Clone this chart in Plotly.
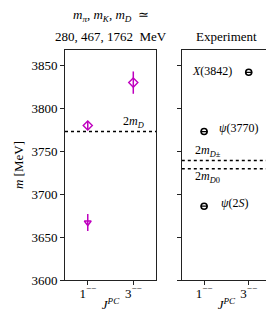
import plotly.graph_objects as go
from plotly.subplots import make_subplots

# ---- data ----
jpc_labels = ["1<sup>−−</sup>", "3<sup>−−</sup>"]
jpc_pos = [0, 1]

# lattice (left panel)
diamond_x = [0, 1]
diamond_m = [3780, 3830]
diamond_err = [5, 13]
tri_x = [0]
tri_m = [3667]
tri_err = [10]
two_mD_lat = 3773

# experiment (right panel)
exp_names = ["<i>X</i>(3842)", "<i>ψ</i>(3770)", "<i>ψ</i>(2<i>S</i>)"]
exp_x = [1, 0, 0]
exp_m = [3842, 3773, 3686]
two_mDpm = 3739.3
two_mD0 = 3729.7

y_range = [3600, 3868]
y_ticks = [3600, 3650, 3700, 3750, 3800, 3850]

MAG = "#bf00bf"
FONT = "Liberation Serif"

fig = make_subplots(rows=1, cols=2, shared_yaxes=False, horizontal_spacing=0.12)

fig.add_trace(go.Scatter(x=diamond_x, y=diamond_m, mode="markers",
                         marker=dict(symbol="diamond-open", size=7, color=MAG, line=dict(width=1.4)),
                         error_y=dict(type="data", array=diamond_err, color=MAG, thickness=1.5, width=0),
                         showlegend=False), row=1, col=1)
fig.add_trace(go.Scatter(x=tri_x, y=tri_m, mode="markers",
                         marker=dict(symbol="triangle-down-open", size=6, color=MAG, line=dict(width=1.4)),
                         error_y=dict(type="data", array=tri_err, color=MAG, thickness=1.5, width=0),
                         showlegend=False), row=1, col=1)
fig.add_trace(go.Scatter(x=[-0.5, 1.5], y=[two_mD_lat, two_mD_lat], mode="lines",
                         line=dict(color="black", dash="dot", width=1.6), showlegend=False), row=1, col=1)

fig.add_trace(go.Scatter(x=[-0.5, 1.5], y=[two_mDpm, two_mDpm], mode="lines",
                         line=dict(color="black", dash="dot", width=1.6), showlegend=False), row=1, col=2)
fig.add_trace(go.Scatter(x=[-0.5, 1.5], y=[two_mD0, two_mD0], mode="lines",
                         line=dict(color="black", dash="dot", width=1.6), showlegend=False), row=1, col=2)
fig.add_trace(go.Scatter(x=exp_x, y=exp_m, mode="markers",
                         marker=dict(symbol="circle-open", size=6, color="black", line=dict(width=1.6)),
                         showlegend=False), row=1, col=2)
fig.add_trace(go.Scatter(x=exp_x, y=exp_m, mode="markers",
                         marker=dict(symbol="line-ew", size=5, color="black", line=dict(width=1.2, color="black")),
                         showlegend=False), row=1, col=2)

axis_common = dict(range=[-0.5, 1.5], tickvals=jpc_pos, ticktext=jpc_labels, showgrid=False,
                   zeroline=False, showline=True, linecolor="#222", linewidth=1, mirror=True,
                   ticks="outside", ticklen=4, tickcolor="#222", ticklabelstandoff=-3,
                   tickfont=dict(family=FONT, size=13, color="black"),
                   title=dict(text="<i>J<sup>PC</sup></i>", font=dict(family=FONT, size=13, color="black"), standoff=0))
fig.update_xaxes(**axis_common, domain=[0, 0.442], row=1, col=1)
fig.update_xaxes(**axis_common, domain=[0.567, 1.0], row=1, col=2)

yax = dict(range=y_range, tickvals=y_ticks, showgrid=False, zeroline=False, showline=True,
           linecolor="#222", linewidth=1, mirror=True, ticks="outside", ticklen=4, tickcolor="#222",
           tickfont=dict(family=FONT, size=13, color="black"))
fig.update_yaxes(**yax, title=dict(text="<i>m</i> [MeV]", font=dict(family=FONT, size=13, color="black"), standoff=4),
                 row=1, col=1)
fig.update_yaxes(**yax, showticklabels=False, row=1, col=2)

anns = []
anns.append(dict(x=0.74, y=3784, xref="x", yref="y", text="2<i>m<sub>D</sub></i>", showarrow=False,
                 xanchor="left", yanchor="middle", font=dict(family=FONT, size=12, color="black")))
anns.append(dict(x=0.67, y=3843, xref="x2", yref="y2", text=exp_names[0], showarrow=False,
                 xanchor="right", yanchor="middle", font=dict(family=FONT, size=12, color="black")))
anns.append(dict(x=0.30, y=3777, xref="x2", yref="y2", text=exp_names[1], showarrow=False,
                 xanchor="left", yanchor="middle", font=dict(family=FONT, size=12, color="black")))
anns.append(dict(x=0.33, y=3690, xref="x2", yref="y2", text=exp_names[2], showarrow=False,
                 xanchor="left", yanchor="middle", font=dict(family=FONT, size=12, color="black")))
anns.append(dict(x=-0.24, y=3750, xref="x2", yref="y2", text="2<i>m<sub>D</sub></i><sub>±</sub>", showarrow=False,
                 xanchor="left", yanchor="middle", font=dict(family=FONT, size=12, color="black")))
anns.append(dict(x=-0.24, y=3720, xref="x2", yref="y2", text="2<i>m<sub>D</sub></i><sub>0</sub>", showarrow=False,
                 xanchor="left", yanchor="middle", font=dict(family=FONT, size=12, color="black")))
# titles
anns.append(dict(x=0.221, y=1.0, xref="paper", yref="paper", yshift=24,
                 text="<i>m<sub>π</sub></i>, <i>m<sub>K</sub></i>, <i>m<sub>D</sub></i>  ≃",
                 showarrow=False, xanchor="center", yanchor="bottom", font=dict(family=FONT, size=13, color="black")))
anns.append(dict(x=0.221, y=1.0, xref="paper", yref="paper", yshift=4,
                 text="280, 467, 1762  MeV", showarrow=False, xanchor="center", yanchor="bottom",
                 font=dict(family=FONT, size=13, color="black")))
anns.append(dict(x=0.7835, y=1.0, xref="paper", yref="paper", yshift=4,
                 text="Experiment", showarrow=False, xanchor="center", yanchor="bottom",
                 font=dict(family=FONT, size=13, color="black")))

fig.update_layout(width=274, height=314, margin=dict(l=56, r=10, t=42, b=42),
                  plot_bgcolor="white", paper_bgcolor="white", annotations=anns,
                  font=dict(family=FONT, size=13, color="black"))

fig.write_html("out.html")
